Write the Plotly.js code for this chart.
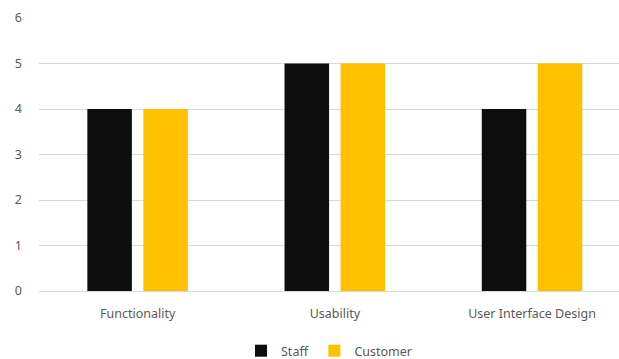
<!DOCTYPE html>
<html>
<head>
<meta charset="utf-8">
<script src="https://cdn.plot.ly/plotly-3.0.1.min.js"></script>
<style>html,body{margin:0;padding:0;background:#fff;overflow:hidden;}</style>
</head>
<body>
<div id="chart" style="width:619px;height:359px;"></div>
<script>
const categories = ["Functionality", "Usability", "User Interface Design"];
const staffValues = [4, 5, 4];
const customerValues = [4, 5, 5];
const seriesNames = ["Staff", "Customer"];
const yTicks = [0, 1, 2, 3, 4, 5, 6];

const traces = [
  {type: "bar", name: seriesNames[0], x: categories, y: staffValues, marker: {color: "#0d0d0d"}, hoverinfo: "none"},
  {type: "bar", name: seriesNames[1], x: categories, y: customerValues, marker: {color: "#ffc000"}, hoverinfo: "none"}
];

const layout = {
  width: 619, height: 359,
  margin: {l: 38.5, r: 0, t: 18, b: 68, autoexpand: false},
  paper_bgcolor: "#ffffff", plot_bgcolor: "#ffffff",
  font: {family: "Noto Sans, Open Sans, sans-serif", size: 12, color: "#595959"},
  barmode: "group",
  bargap: 0.432,
  bargroupgap: 0.205,
  showlegend: true,
  legend: {orientation: "h", x: 0.5, xanchor: "center", y: -0.22, yanchor: "middle", font: {size: 12.5, color: "#595959"}, itemwidth: 30, tracegroupgap: 0},
  xaxis: {type: "category", range: [-0.5, 2.441], showgrid: false, zeroline: false, showline: false, ticks: "", ticklabelstandoff: 13, tickfont: {size: 12.5, color: "#595959"}},
  yaxis: {range: [0, 6], tickvals: yTicks, showgrid: true, gridcolor: "#d9d9d9", gridwidth: 1, zeroline: true, zerolinecolor: "#d9d9d9", zerolinewidth: 1, showline: false, ticks: "", ticklabelstandoff: 16, tickfont: {size: 12.5, color: "#595959"}}
};

Plotly.newPlot("chart", traces, layout, {displayModeBar: false, staticPlot: true});
</script>
</body>
</html>
